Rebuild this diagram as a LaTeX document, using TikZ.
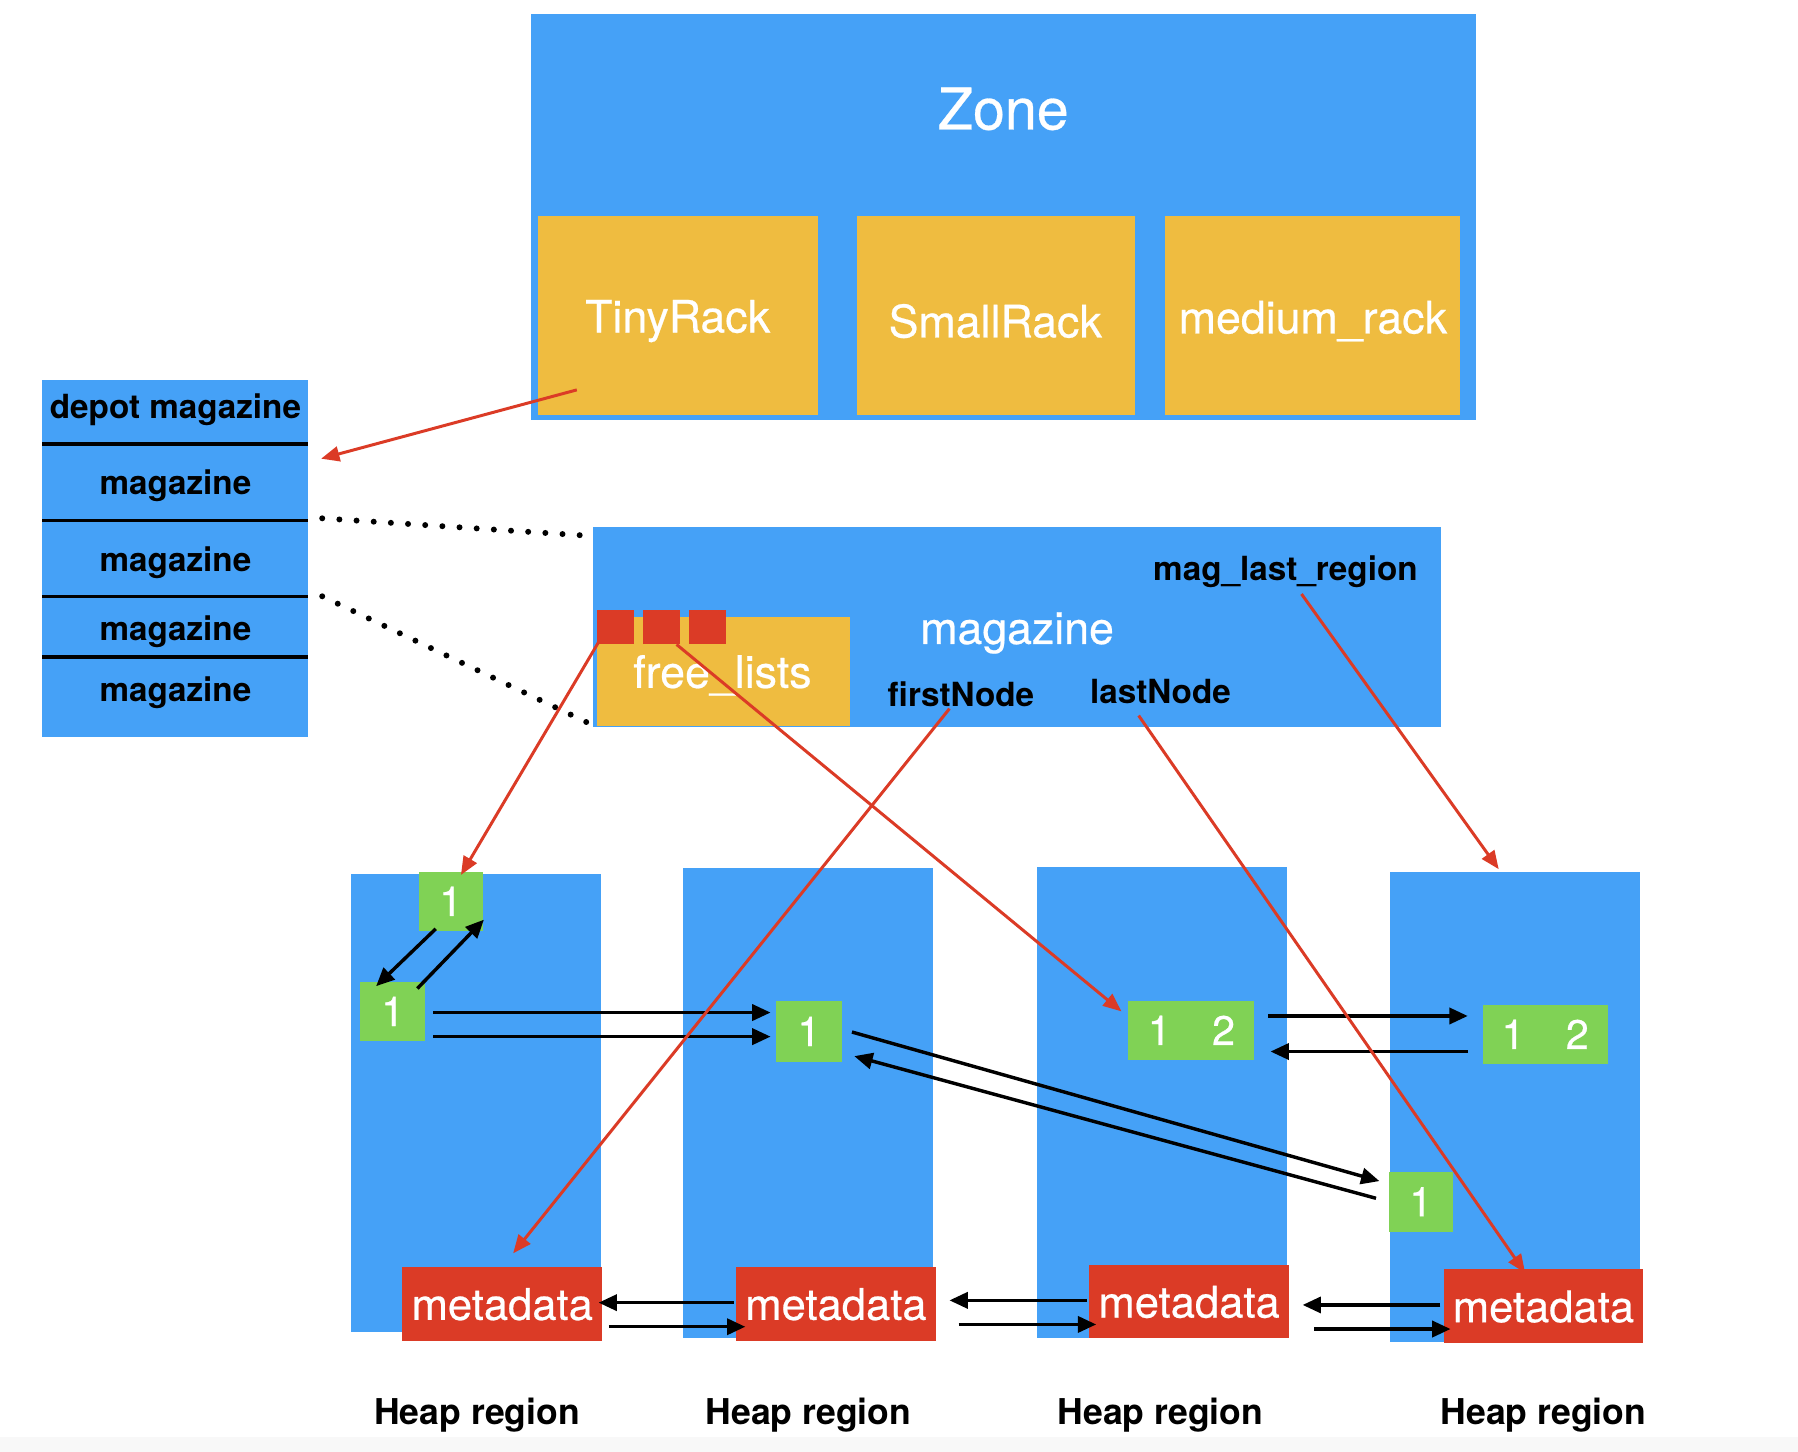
\documentclass[tikz,border=0pt]{standalone}
\usepackage{fontspec}
\setmainfont{TeX Gyre Heros}
\newfontfamily\medfont[FakeBold=0.5]{TeX Gyre Heros}
\usetikzlibrary{calc,arrows.meta}
\definecolor{zblue}{HTML}{45A1F7}
\definecolor{zorange}{HTML}{EFBC40}
\definecolor{zgreen}{HTML}{80D255}
\definecolor{zred}{HTML}{DB3B26}
\definecolor{zfaint}{HTML}{F8F8F8}
\begin{document}
\begin{tikzpicture}[x=0.5pt,y=-0.5pt,
  box/.style={inner sep=0pt, outer sep=0pt, draw=none, anchor=north west},
  bluebox/.style={box, fill=zblue},
  orbox/.style={box, fill=zorange},
  grbox/.style={box, fill=zgreen, text=white, font=\medfont\fontsize{18pt}{21pt}\selectfont},
  metabox/.style={box, fill=zred, text=white, font=\medfont\fontsize{19pt}{22pt}\selectfont, minimum width=87pt, minimum height=32pt, text height=14pt, text depth=0pt},
  heapbox/.style={bluebox, minimum width=109pt},
  wt/.style={inner sep=0pt, text=white, font=\medfont\fontsize{19.5pt}{23pt}\selectfont},
  bl/.style={inner sep=0pt, text=black, font=\bfseries\fontsize{14.5pt}{17pt}\selectfont},
  hp/.style={inner sep=0pt, text=black, font=\bfseries\fontsize{15.5pt}{18pt}\selectfont},
  blk/.style={draw=black, line width=1.5pt, -{Triangle[length=8pt,width=7pt]}},
  redarr/.style={draw=zred, line width=1.3pt, -{Triangle[length=8pt,width=6.5pt]}},
  dots/.style={draw=black, line width=2.6pt, line cap=round, dash pattern=on 0pt off 7.5pt},
  sep/.style={draw=black, line width=1.5pt}
]
\useasboundingbox (0,0) rectangle (1568,1266);
\fill[zfaint] (0,1253) rectangle (1568,1266);

% Zone
\node[bluebox, minimum width=412pt, minimum height=177pt] (zone) at (463,12) {};
\node[inner sep=0pt, text=white, font=\medfont\fontsize{25pt}{30pt}\selectfont] (zonelbl) at (875,95) {Zone};
\node[orbox, minimum width=122pt, minimum height=87pt] (tiny) at (469,188) {};
\node[orbox, minimum width=121.5pt, minimum height=87pt] (small) at (747,188) {};
\node[orbox, minimum width=128.5pt, minimum height=87pt] (medium) at (1016,188) {};
\node[wt] (tinylbl) at (591,280) {TinyRack};
\node[wt] (smalllbl) at (868,280) {SmallRack};
\node[wt] (mediumlbl) at (1145,280) {medium\_rack};

% depot
\node[bluebox, minimum width=116pt, minimum height=156pt] (depot) at (37,331) {};
\draw[sep] (37,387) -- (269,387);
\draw[sep] (37,454) -- (269,454);
\draw[sep] (37,520) -- (269,520);
\draw[sep] (37,573) -- (269,573);
\node[bl] (dm) at (153,357) {depot magazine};
\node[bl] (dm1) at (153,424) {magazine};
\node[bl] (dm2) at (153,491) {magazine};
\node[bl] (dm3) at (153,551) {magazine};
\node[bl] (dm4) at (153,604) {magazine};

% magazine
\node[bluebox, minimum width=370pt, minimum height=87pt] (mag) at (517,460) {};
\node[orbox, minimum width=110pt, minimum height=47.5pt] (free) at (521,538) {};
\node[wt] (freelbl) at (630,589) {free\_lists};
\node[box, fill=zred, minimum width=16pt, minimum height=15pt] (rs1) at (521,532) {};
\node[box, fill=zred, minimum width=16pt, minimum height=15pt] (rs2) at (561,532) {};
\node[box, fill=zred, minimum width=16pt, minimum height=15pt] (rs3) at (601,532) {};
\node[wt] (maglbl) at (887,552) {magazine};
\node[bl] (maglast) at (1121,499) {mag\_last\_region};
\node[bl] (first) at (838,605) {firstNode};
\node[bl] (last) at (1012,603) {lastNode};

% heap regions
\node[heapbox, minimum height=200pt] (h1) at (306,762) {};
\node[heapbox, minimum height=205pt] (h2) at (596,757) {};
\node[heapbox, minimum height=205.5pt] (h3) at (904,756) {};
\node[heapbox, minimum height=205pt] (h4) at (1212,760) {};

% green blocks
\node[grbox, minimum width=28pt, minimum height=26pt] (ga) at (365,760) {1};
\node[grbox, minimum width=28.5pt, minimum height=26pt] (gb) at (314,856) {1};
\node[grbox, minimum width=28.5pt, minimum height=26.5pt] (gc) at (677,873) {1};
\node[grbox, minimum width=55pt, minimum height=25.5pt] (gd) at (984,873) {1\hspace{18pt}2};
\node[grbox, minimum width=54.5pt, minimum height=26pt] (ge) at (1293,876) {1\hspace{18pt}2};
\node[grbox, minimum width=28pt, minimum height=26pt] (gf) at (1211,1022) {1};

% metadata
\node[metabox] (m1) at (351,1105) {metadata};
\node[metabox] (m2) at (642,1105) {metadata};
\node[metabox] (m3) at (950,1103) {metadata};
\node[metabox] (m4) at (1259,1107) {metadata};

% heap labels
\node[hp] (hl1) at (416,1234) {Heap region};
\node[hp] (hl2) at (705,1234) {Heap region};
\node[hp] (hl3) at (1012,1234) {Heap region};
\node[hp] (hl4) at (1346,1234) {Heap region};

% dotted lines
\draw[dots] ($(depot.north east)+(12,121)$) -- ($(mag.north west)+(-7,7)$);
\draw[dots] ($(depot.north east)+(12,189)$) -- ($(mag.south west)+(-5,-4)$);

% black arrows
\draw[blk] ($(ga.south)+(-13,-2)$) -- ($(gb.north west)+(14,4)$);
\draw[blk] ($(gb.north east)+(-7,6)$) -- ($(ga.south east)+(1,-10)$);
\draw[blk] ($(gb.east)+(7,1)$) -- ($(gc.west)+(-5,-16.5)$);
\draw[blk] ($(gb.east)+(7,22)$) -- ($(gc.west)+(-5,4.5)$);
\draw[blk] ($(gc.east)+(9,0.5)$) -- ($(gf.west)+(-8,-18)$);
\draw[blk] ($(gf.west)+(-11,-3)$) -- ($(gc.east)+(11,21.5)$);
\draw[blk] ($(gd.east)+(12,-12.5)$) -- ($(ge.west)+(-13,-16)$);
\draw[blk] ($(ge.west)+(-13,15)$) -- ($(gd.east)+(14,18.5)$);

\draw[blk] ($(m2.west)+(-2,-1)$) -- ($(m1.east)+(-3,-1)$);
\draw[blk] ($(m1.east)+(6,20)$) -- ($(m2.west)+(8,20)$);
\draw[blk] ($(m3.west)+(-2,-1)$) -- ($(m2.east)+(12,-3)$);
\draw[blk] ($(m2.east)+(20,18)$) -- ($(m3.west)+(6,20)$);
\draw[blk] ($(m4.west)+(-3,-1)$) -- ($(m3.east)+(12,3)$);
\draw[blk] ($(m3.east)+(22,24)$) -- ($(m4.west)+(6,20)$);

% red arrows
\draw[redarr] ($(tiny.south)+(-88,-22)$) -- ($(depot.north east)+(11,69)$);
\draw[redarr] ($(rs1.south west)+(1,-2)$) -- ($(ga.north)+(9,3)$);
\draw[redarr] ($(rs2.south east)+(-3,0)$) -- ($(gd.west)+(-6,-16.5)$);
\draw[redarr] ($(first)+(-10,13)$) -- ($(m1.north)+(9.5,-12)$);
\draw[redarr] ($(last)+(-19,21)$) -- ($(m4.north)+(-16,3)$);
\draw[redarr] ($(maglast)+(14,19)$) -- ($(h4.north)+(-14,-2)$);
\end{tikzpicture}
\end{document}
